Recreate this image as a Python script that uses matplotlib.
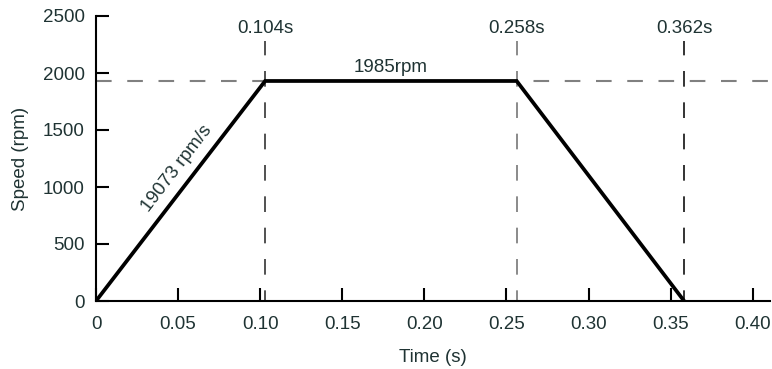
import matplotlib
matplotlib.use("Agg")
import matplotlib.pyplot as plt
import numpy as np

plt.rcParams['font.family'] = ['Liberation Sans', 'DejaVu Sans']

# Data
time_pts = [0.0, 0.103, 0.2562, 0.3582]
speed_pts = [0, 1930, 1930, 0]
marker_times = [0.103, 0.2562, 0.3582]
marker_labels = ['0.104s', '0.258s', '0.362s']
marker_colors = ['#333333', '#777777', '#111111']
plateau_speed = 1930
plateau_label = '1985rpm'
slope_label = '19073 rpm/s'
xticks = [0, 0.05, 0.10, 0.15, 0.20, 0.25, 0.30, 0.35, 0.40]
xticklabels = ['0', '0.05', '0.10', '0.15', '0.20', '0.25', '0.30', '0.35', '0.40']
yticks = [0, 500, 1000, 1500, 2000, 2500]

txt = '#1f3333'
fs = 13.5
fig = plt.figure(figsize=(7.72, 3.69), dpi=100)
ax = fig.add_axes([96/772, 68/369, 674/772, 285/369])
ax.set_xlim(0, 0.4105)
ax.set_ylim(0, 2500)

# dashed reference lines
ax.axhline(plateau_speed, color='#808080', lw=1.5, ls=(0, (7.5, 7.5)), zorder=1)
for t, lab, c in zip(marker_times, marker_labels, marker_colors):
    ax.plot([t, t], [0, 2280], color=c, lw=1.2, ls=(3, (9.4, 9.4)), zorder=1, clip_on=False)
    ax.text(t, 2390, lab, ha='center', va='center', fontsize=fs, color=txt)

ax.plot(time_pts, speed_pts, color='black', lw=2.7, zorder=3, solid_joinstyle='miter')

ax.text((marker_times[0] + marker_times[1]) / 2, plateau_speed + 120, plateau_label,
        ha='center', va='center', fontsize=fs, color=txt)
ax.text(0.0495, 1160, slope_label, ha='center', va='center', rotation=52.5,
        rotation_mode='anchor', fontsize=fs, color=txt)

ax.set_xticks(xticks)
ax.set_xticklabels(xticklabels)
ax.set_yticks(yticks)
ax.tick_params(direction='in', length=9.5, width=1.5, colors='black', labelcolor=txt,
               labelsize=fs)
ax.tick_params(axis='x', pad=10.5)
ax.tick_params(axis='y', pad=8)
for s in ['top', 'right']:
    ax.spines[s].set_visible(False)
for s in ['left', 'bottom']:
    ax.spines[s].set_linewidth(1.5)

ax.set_xlabel('Time (s)', fontsize=fs, color=txt, labelpad=12)
ax.set_ylabel('Speed (rpm)', fontsize=fs, color=txt, labelpad=10)

fig.savefig('out.png', dpi=100)
